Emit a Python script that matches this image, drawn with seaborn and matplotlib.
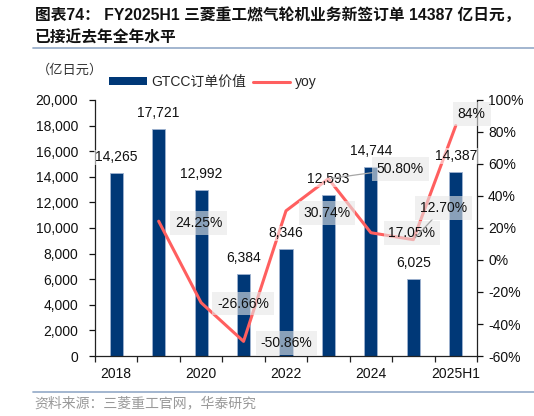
import numpy as np
import pandas as pd
import matplotlib
matplotlib.use("Agg")
import matplotlib.pyplot as plt
from matplotlib.patches import Patch
from matplotlib.lines import Line2D
from matplotlib.ticker import FuncFormatter, MultipleLocator
import seaborn as sns

# ---- data ----
categories = ["2018", "2019", "2020", "2021", "2022", "2023", "2024", "2024H1", "2025H1"]
order_values = [14265, 17721, 12992, 6384, 8346, 12593, 14744, 6025, 14387]
yoy_values = [None, 24.25, -26.66, -50.86, 30.74, 50.80, 17.05, 12.70, 84.0]
yoy_labels = [None, "24.25%", "-26.66%", "-50.86%", "30.74%", "50.80%", "17.05%", "12.70%", "84%"]
tick_labels = ["2018", "2020", "2022", "2024", "2025H1"]

NAVY = "#003877"
RED = "#ff5f5f"

sns.set_style("ticks")
plt.rcParams["font.family"] = ["Liberation Sans", "Noto Sans CJK SC", "DejaVu Sans"]
plt.rcParams["axes.unicode_minus"] = False

W, H = 534, 416
fig = plt.figure(figsize=(W / 100, H / 100), dpi=100)
ax = fig.add_axes([95 / W, 1 - 356 / H, (477 - 95) / W, 256 / H])

df = pd.DataFrame({"year": categories, "value": order_values})
sns.barplot(data=df, x="year", y="value", order=categories, color=NAVY, saturation=1,
            width=0.31, edgecolor="#9fb2d0", linewidth=0.6, ax=ax, zorder=2)

positions = np.arange(len(categories))
ax2 = ax.twinx()
yoy_x = [p for p, v in zip(positions, yoy_values) if v is not None]
yoy_y = [v for v in yoy_values if v is not None]
sns.lineplot(x=yoy_x, y=yoy_y, color=RED, linewidth=2.2, ax=ax2, legend=False, zorder=3)

# axes formatting
ax.set_xlim(-0.5, len(categories) - 0.5)
ax.set_ylim(0, 20000)
ax.yaxis.set_major_locator(MultipleLocator(2000))
ax.yaxis.set_major_formatter(FuncFormatter(lambda v, p: f"{int(v):,}"))
ax2.set_ylim(-60, 100)
ax2.yaxis.set_major_locator(MultipleLocator(20))
ax2.yaxis.set_major_formatter(FuncFormatter(lambda v, p: f"{int(round(v))}%"))

ax.set_xticks(positions[::2])
ax.set_xticklabels(tick_labels)
ax.set_xticks(np.arange(-0.5, len(categories), 1), minor=True)
ax.tick_params(axis="x", which="major", length=0, pad=8, labelsize=10, colors="#111111")
ax.tick_params(axis="x", which="minor", length=4, width=0.9, direction="out", color="#222222")
ax.tick_params(axis="y", length=4, width=0.9, direction="out", pad=8, labelsize=10,
               colors="#111111")
ax2.tick_params(axis="y", length=4, width=0.9, direction="out", pad=4, labelsize=10,
                colors="#111111")
ax.set_xlabel("")
ax.set_ylabel("")
ax2.set_ylabel("")
ax.grid(False)
ax2.grid(False)

for a in (ax, ax2):
    a.spines["top"].set_visible(False)
    for s in a.spines.values():
        s.set_color("#222222")
        s.set_linewidth(0.9)
ax.spines["right"].set_visible(False)
ax2.spines["left"].set_visible(False)
ax2.spines["bottom"].set_visible(False)

# bar value labels (drawn on top layer)
for i, v in enumerate(order_values):
    ax2.annotate(f"{v:,}", xy=(i, v), xycoords=ax.transData, xytext=(0, 11.5),
                 textcoords="offset points", ha="center", va="center", fontsize=10,
                 color="#111111", zorder=5,
                 bbox=dict(boxstyle="square,pad=0.05", fc="white", ec="none", alpha=0.55))

# yoy labels
offsets = {1: (28.8, -1.4), 2: (30.2, -0.7), 3: (31.0, -1.4), 4: (29.5, -1.4),
           5: (51.8, 7.2), 6: (29.5, 0.0), 7: (21.6, 23.0), 8: (11.5, 8.6)}
leaders = {5, 7}
for i, (v, lab) in enumerate(zip(yoy_values, yoy_labels)):
    if v is None:
        continue
    kw = {}
    if i in leaders:
        kw["arrowprops"] = dict(arrowstyle="-", color="#a6a6a6", lw=0.9,
                                shrinkA=0, shrinkB=2)
    ax2.annotate(lab, xy=(i, v), xytext=offsets[i], textcoords="offset points",
                 ha="center", va="center", fontsize=10, color="#111111", zorder=6,
                 bbox=dict(boxstyle="square,pad=0.35", fc="#e6e6e6", ec="none", alpha=0.6),
                 **kw)

# legend
handles = [Patch(facecolor=NAVY, edgecolor="none"),
           Line2D([], [], color=RED, linewidth=2.2)]
fig.legend(handles, ["GTCC订单价值", "yoy"], loc="center left",
           bbox_to_anchor=(109 / W, 1 - 82 / H), ncol=2, frameon=False,
           borderaxespad=0, borderpad=0, handlelength=2.7, handleheight=0.5,
           handletextpad=0.36, columnspacing=0.45, fontsize=10)

# title, unit, source
title_font = ["Liberation Sans", "Noto Sans CJK SC", "DejaVu Sans"]
fig.text(35 / W, 1 - 15 / H, "图表74： FY2025H1 三菱重工燃气轮机业务新签订单 14387 亿日元，",
         fontsize=11.3, fontweight="bold", va="center", ha="left", color="#111111",
         family=title_font)
fig.text(35 / W, 1 - 38 / H, "已接近去年全年水平", fontsize=11.3, fontweight="bold",
         va="center", ha="left", color="#111111", family=title_font)
fig.add_artist(Line2D([33 / W, 1.0], [1 - 48 / H] * 2, color="#9bb0cc", lw=1.3))
fig.text(37 / W, 1 - 70 / H, "（亿日元）", fontsize=9.5, va="center", ha="left",
         color="#333333")
fig.add_artist(Line2D([33 / W, 1.0], [1 - 392 / H] * 2, color="#9bb0cc", lw=1.3))
fig.text(34 / W, 1 - 403 / H, "资料来源：三菱重工官网，华泰研究", fontsize=10,
         va="center", ha="left", color="#999999")

fig.savefig("out.png", dpi=100)
